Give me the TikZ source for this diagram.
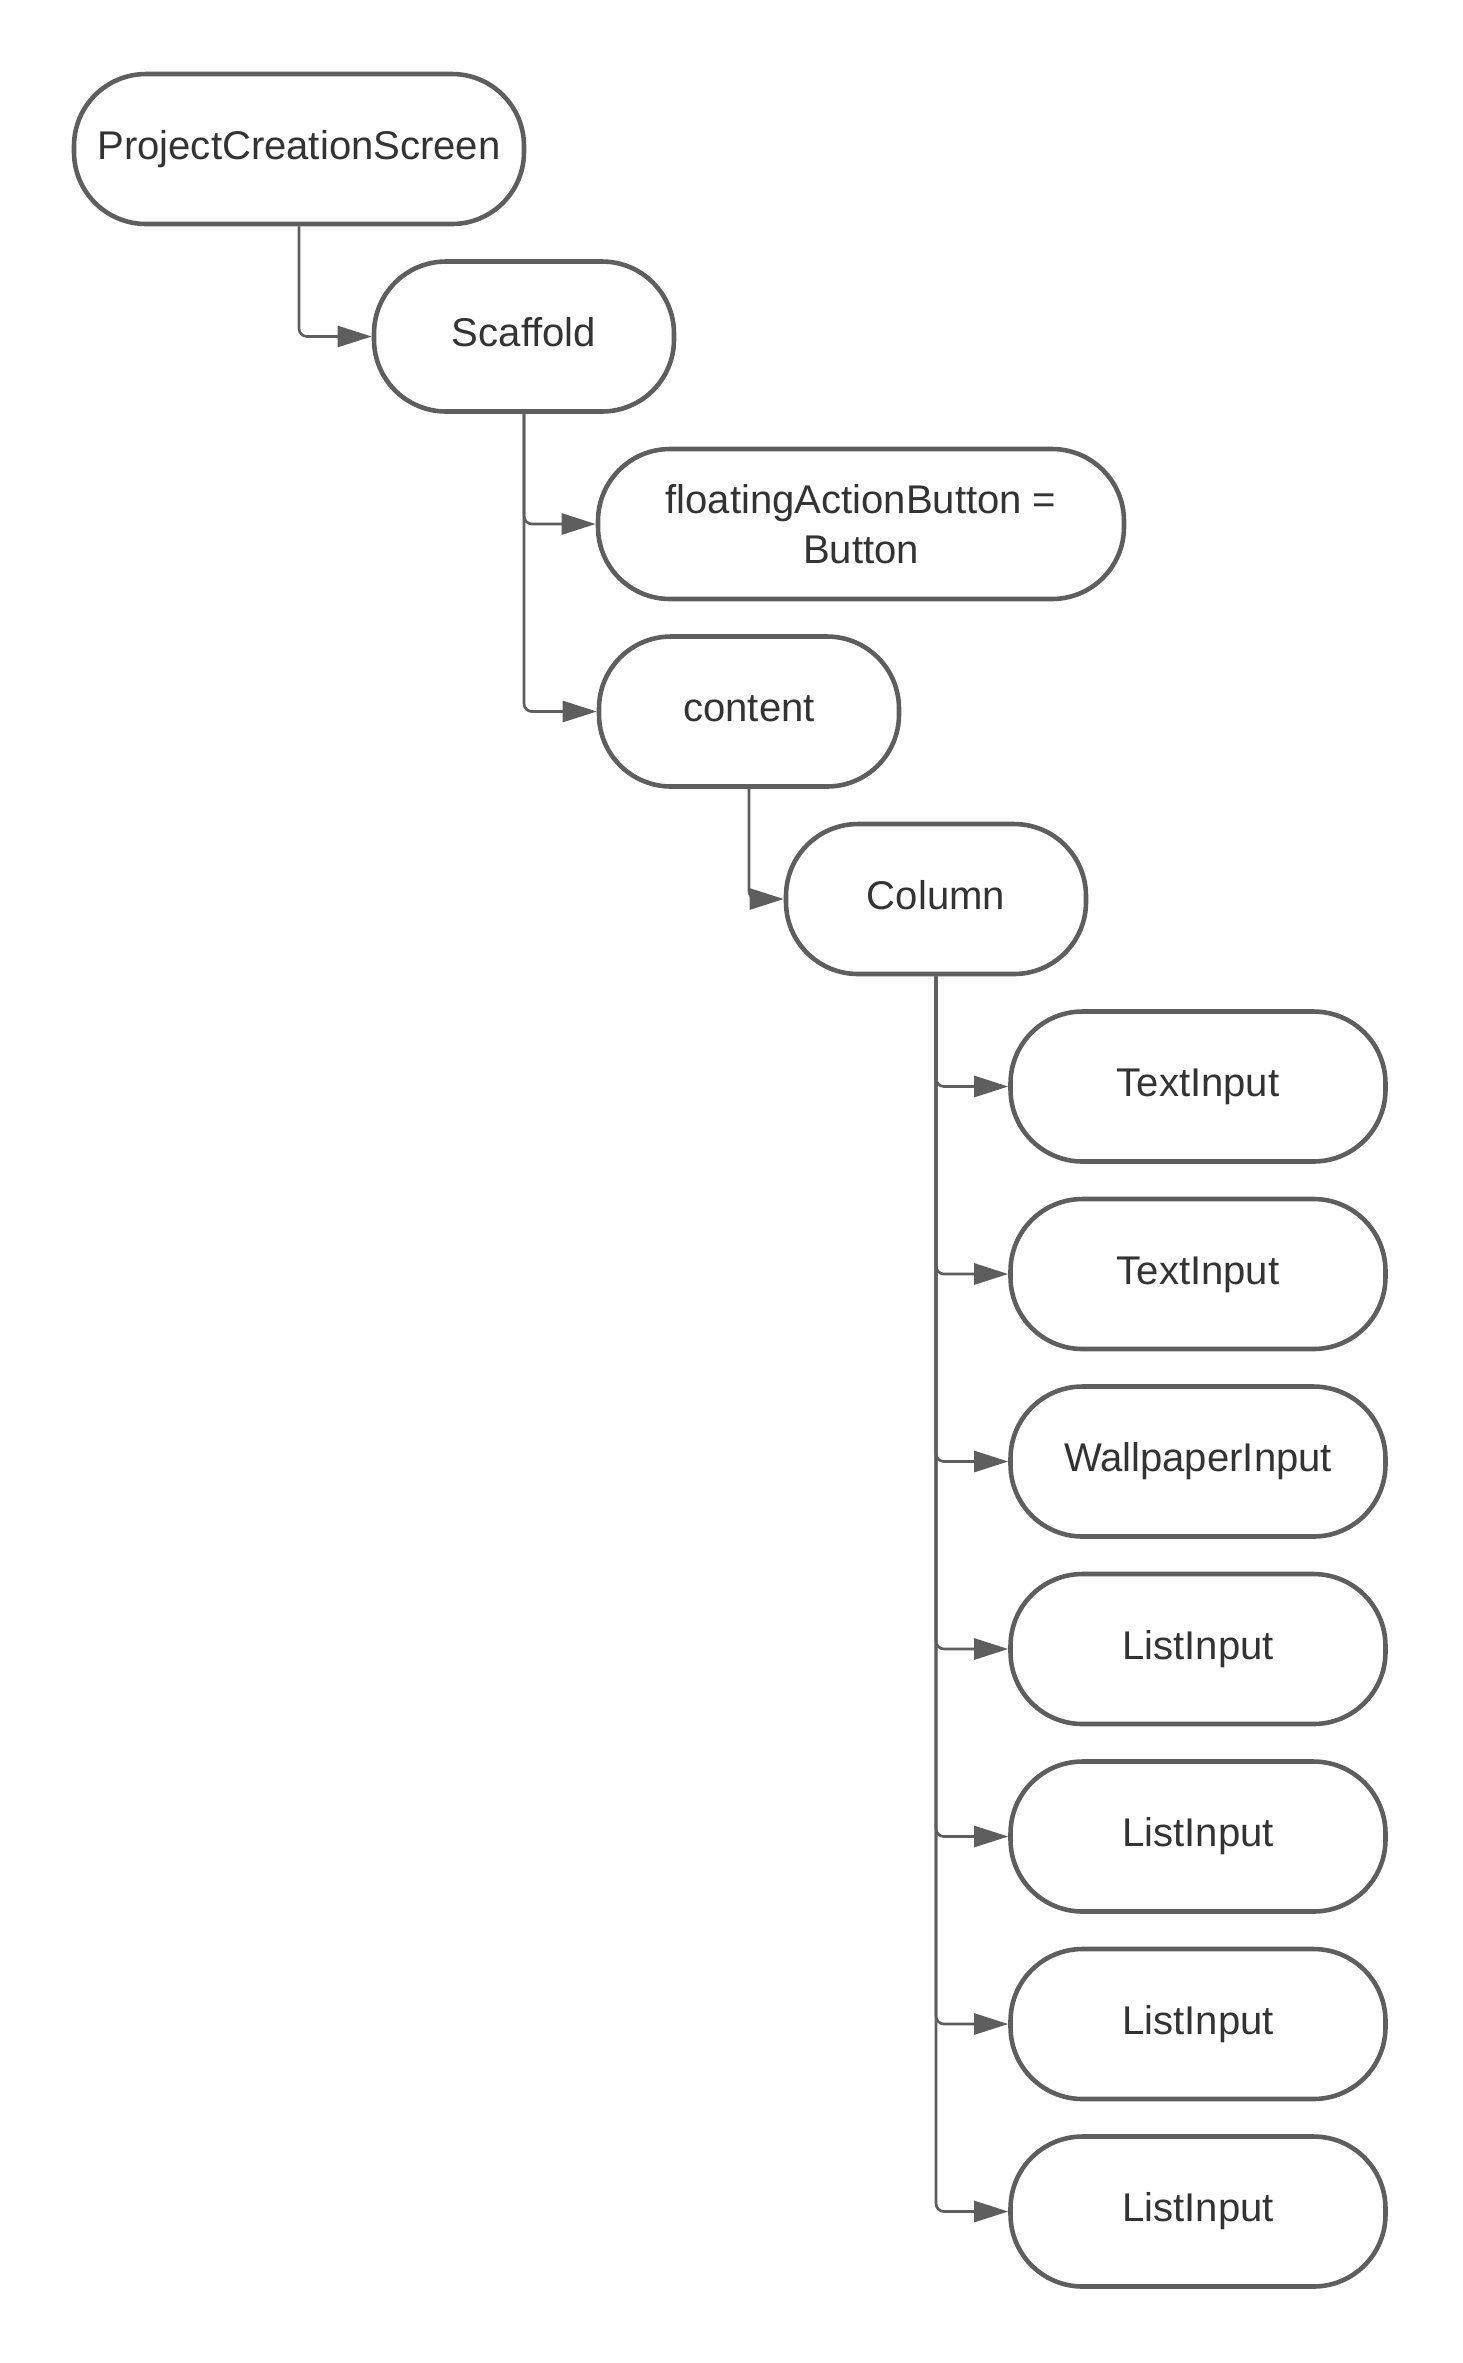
\documentclass[tikz,border=0pt]{standalone}
\usepackage{fontspec}
\setmainfont{Liberation Sans}
\usetikzlibrary{arrows.meta,positioning}
\definecolor{linegray}{HTML}{5E5E5E}
\definecolor{textdark}{HTML}{333333}
\tikzset{
  widget/.style={draw=linegray, fill=white, rounded corners=0.72cm, line width=1.3pt,
    minimum height=1.50cm, minimum width=3.00cm, inner sep=2pt, align=center,
    text height=0.30cm, text depth=0.10cm,
    font=\fontsize{11.4}{14.2}\selectfont, text=textdark},
  link/.style={-{Triangle[length=0.34cm, width=0.21cm]}, line width=0.75pt,
    color=linegray, rounded corners=0.08cm},
}
\begin{document}
\begin{tikzpicture}[x=1cm,y=1cm]
  \useasboundingbox (0,0) rectangle (14.63,-23.63);
  \def\dy{1.875}   % row pitch
  % widget tree, one level per row
  \node[widget, minimum width=4.50cm] (pcs) at (2.99,-1.49) {ProjectCreationScreen};
  \node[widget] (scaffold) at (5.24,-1.49-\dy) {Scaffold};
  \node[widget, minimum width=5.26cm, text height={}, text depth={}] (fab)
    at (8.61,-1.49-2*\dy) {floatingActionButton =\\Button};
  \node[widget] (content) at (7.49,-1.49-3*\dy) {content};
  \node[widget] (column) at (9.36,-1.49-4*\dy) {Column};
  \draw[link] (pcs.south) |- (scaffold.west);
  \draw[link] (scaffold.south) |- (fab.west);
  \draw[link] (scaffold.south) |- (content.west);
  \draw[link] (content.south) |- (column.west);
  % children of the column
  \foreach \i/\t in {1/TextInput, 2/TextInput, 3/WallpaperInput, 4/ListInput,
      5/ListInput, 6/ListInput, 7/ListInput} {
    \node[widget, minimum width=3.75cm] (in\i) at (11.98,{-1.49-(4+\i)*\dy}) {\t};
    \draw[link] (column.south) |- (in\i.west);
  }
\end{tikzpicture}
\end{document}
